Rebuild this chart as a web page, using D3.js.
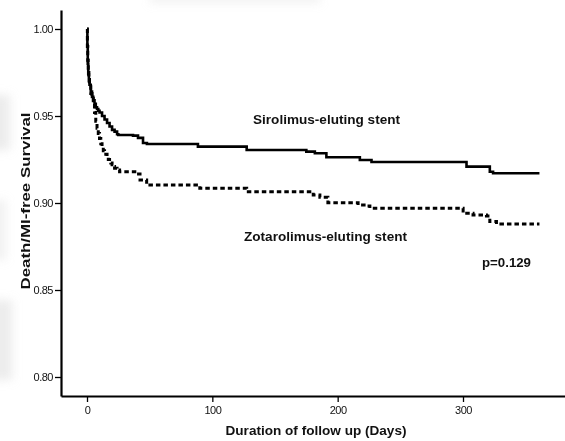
<!DOCTYPE html>
<html>
<head>
<meta charset="utf-8">
<script src="https://cdn.jsdelivr.net/npm/d3@7"></script>
<style>
  html, body { margin: 0; padding: 0; background: #fff; }
  svg { display: block; }
</style>
</head>
<body>
<svg id="chart" width="565" height="441"></svg>
<script>
// Kaplan-Meier step data: [day, survival after event]
const sirolimusDays = [0, 0.3, 0.6, 1, 1.5, 2, 3, 4, 5, 6, 7, 8, 9, 10, 12, 14, 16, 18, 20, 22, 24, 25, 36.7, 40.7, 44.7, 47.8, 88.5, 127.4, 175, 181.8, 191, 217.7, 227, 302.8, 321.4, 324, 361];
const sirolimusSurv = [1.000, 0.990, 0.980, 0.974, 0.970, 0.968, 0.964, 0.961, 0.959, 0.957, 0.955, 0.954, 0.953, 0.952, 0.950, 0.948, 0.946, 0.944, 0.942, 0.941, 0.9395, 0.9391, 0.9387, 0.9374, 0.9345, 0.9339, 0.9324, 0.9305, 0.9295, 0.9286, 0.9263, 0.9247, 0.9236, 0.9209, 0.9180, 0.9171, 0.9171];

const zotarolimusDays = [0, 0.3, 0.6, 1, 1.5, 2, 3, 4, 5, 6, 7, 8, 9, 10, 11, 12, 13, 14, 15, 16, 17, 18, 19, 20, 21, 22, 24, 26, 39.6, 42.3, 47.6, 90, 127.4, 180.5, 185.8, 192.2, 216.3, 223, 225.7, 300.1, 308, 318.7, 321.4, 326.7, 361];
const zotarolimusSurv = [1.000, 0.990, 0.982, 0.975, 0.971, 0.968, 0.963, 0.960, 0.957, 0.952, 0.947, 0.943, 0.940, 0.937, 0.934, 0.932, 0.930, 0.9295, 0.928, 0.927, 0.925, 0.924, 0.923, 0.922, 0.921, 0.920, 0.919, 0.918, 0.9167, 0.9132, 0.9103, 0.9085, 0.9065, 0.9046, 0.9033, 0.9002, 0.8989, 0.8983, 0.8970, 0.8941, 0.8931, 0.8925, 0.8893, 0.8879, 0.8879];

const xTicks = [0, 100, 200, 300];
const yTicks = [0.80, 0.85, 0.90, 0.95, 1.00];
const seriesNames = ["Sirolimus-eluting stent", "Zotarolimus-eluting stent"];
const pValueText = "p=0.129";
const xTitle = "Duration of follow up (Days)";
const yTitle = "Death/MI-free Survival";

const svg = d3.select("#chart");

// Faint grey haze along the left and top edges
const defs = svg.append("defs");
defs.append("filter").attr("id", "haze")
  .attr("x", "-50%").attr("y", "-50%").attr("width", "200%").attr("height", "200%")
  .append("feGaussianBlur").attr("stdDeviation", 5);
const haze = svg.append("g").attr("filter", "url(#haze)").attr("fill", "#cfcfcf");
haze.append("rect").attr("x", -8).attr("y", 95).attr("width", 18).attr("height", 55).attr("opacity", 0.4);
haze.append("rect").attr("x", -8).attr("y", 200).attr("width", 14).attr("height", 60).attr("opacity", 0.3);
haze.append("rect").attr("x", -8).attr("y", 300).attr("width", 20).attr("height", 80).attr("opacity", 0.4);
haze.append("rect").attr("x", 150).attr("y", -8).attr("width", 170).attr("height", 11).attr("opacity", 0.3);

// Scales: axis lines run beyond the tick range
const x = d3.scaleLinear().domain([0, 300]).range([87, 463]);
const y = d3.scaleLinear().domain([0.80, 1.00]).range([377, 29]);
const xAxisScale = x.copy().domain([x.invert(61), x.invert(565)]).range([61, 565]);
const yAxisScale = y.copy().domain([y.invert(396), y.invert(10)]).range([396, 10]);

const axisFont = "'Liberation Sans', Arial, sans-serif";

// Y axis
const gy = svg.append("g")
  .attr("transform", "translate(61,0)")
  .call(d3.axisLeft(yAxisScale).tickValues(yTicks).tickFormat(d3.format(".2f")).tickSize(6).tickSizeOuter(0).tickPadding(2));
gy.select(".domain").attr("stroke-width", 2.2);
gy.selectAll(".tick line").attr("stroke-width", 1.3);
gy.selectAll(".tick text").attr("font-family", axisFont).attr("font-size", 11).attr("fill", "#111")
  .attr("letter-spacing", -0.5);

// X axis
const gx = svg.append("g")
  .attr("transform", "translate(0,396)")
  .call(d3.axisBottom(xAxisScale).tickValues(xTicks).tickFormat(d3.format("d")).tickSize(6).tickSizeOuter(0).tickPadding(4));
gx.select(".domain").attr("stroke-width", 2.2);
gx.selectAll(".tick line").attr("stroke-width", 1.3);
gx.selectAll(".tick text").attr("font-family", axisFont).attr("font-size", 11).attr("fill", "#111")
  .attr("letter-spacing", -0.5);

// Survival curves as step functions
const line = d3.line()
  .x(d => x(d[0]))
  .y(d => y(d[1]))
  .curve(d3.curveStepAfter);

svg.append("path")
  .datum(sirolimusDays.map((d, i) => [d, sirolimusSurv[i]]))
  .attr("d", line)
  .attr("fill", "none")
  .attr("stroke", "#000")
  .attr("stroke-width", 2.6);

svg.append("path")
  .datum(zotarolimusDays.map((d, i) => [d, zotarolimusSurv[i]]))
  .attr("d", line)
  .attr("fill", "none")
  .attr("stroke", "#000")
  .attr("stroke-width", 3)
  .attr("stroke-dasharray", "4.5,3");

// Annotations
const boldFont = "'Liberation Sans', Arial, sans-serif";
svg.append("text").attr("x", 253).attr("y", 124)
  .attr("font-family", boldFont).attr("font-weight", "bold").attr("font-size", 13)
  .attr("textLength", 147).attr("lengthAdjust", "spacingAndGlyphs")
  .attr("fill", "#111").text(seriesNames[0]);
svg.append("text").attr("x", 244).attr("y", 241)
  .attr("font-family", boldFont).attr("font-weight", "bold").attr("font-size", 13)
  .attr("textLength", 163).attr("lengthAdjust", "spacingAndGlyphs")
  .attr("fill", "#111").text(seriesNames[1]);
svg.append("text").attr("x", 482).attr("y", 267)
  .attr("font-family", boldFont).attr("font-weight", "bold").attr("font-size", 12)
  .attr("textLength", 49).attr("lengthAdjust", "spacingAndGlyphs")
  .attr("fill", "#111").text(pValueText);

// Axis titles
svg.append("text").attr("x", 316).attr("y", 435)
  .attr("text-anchor", "middle")
  .attr("font-family", boldFont).attr("font-weight", "bold").attr("font-size", 13.5)
  .attr("textLength", 181).attr("lengthAdjust", "spacingAndGlyphs")
  .attr("fill", "#111").text(xTitle);
svg.append("text")
  .attr("transform", "translate(30,201) rotate(-90)")
  .attr("text-anchor", "middle")
  .attr("font-family", boldFont).attr("font-weight", "bold").attr("font-size", 13.5)
  .attr("textLength", 177).attr("lengthAdjust", "spacingAndGlyphs")
  .attr("fill", "#111").text(yTitle);
</script>
</body>
</html>
